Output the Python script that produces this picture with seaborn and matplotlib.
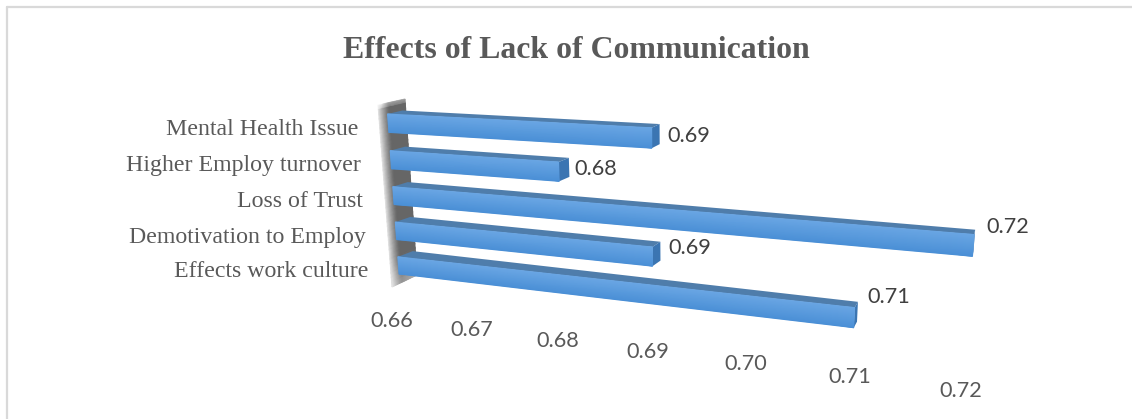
import numpy as np
import pandas as pd
import matplotlib
matplotlib.use("Agg")
import matplotlib.pyplot as plt
import seaborn as sns
from matplotlib.colors import LinearSegmentedColormap
from matplotlib.lines import Line2D
from matplotlib.patches import Polygon
from matplotlib.transforms import Affine2D, IdentityTransform, Transform

TITLE = "Effects of Lack of Communication"
categories = ["Mental Health Issue", "Higher Employ turnover", "Loss of Trust",
              "Demotivation to Employ", "Effects work culture"]
values = [0.69, 0.68, 0.72, 0.69, 0.71]
value_ticks = [0.66, 0.67, 0.68, 0.69, 0.70, 0.71, 0.72]

W, H = 1132, 419
V_MIN, V_MAX = 0.66, 0.72
BAR_WIDTH = 0.5
C_TOP, C_BOTTOM = -BAR_WIDTH / 2, len(categories) - 1 + BAR_WIDTH / 2

TEXT_GREY = "#595959"
LABEL_GREY = "#404040"
TOP_FACE = "#4f7dab"
SIDE_FACE = "#3b75b2"


class Projection(Transform):
    """Perspective mapping of (value, category) onto the canvas (y downward)."""
    input_dims = output_dims = 2
    is_affine = False
    has_inverse = False

    def __init__(self, corners):
        super().__init__()
        src = [(V_MIN, C_TOP), (V_MIN, C_BOTTOM), (V_MAX, C_TOP), (V_MAX, C_BOTTOM)]
        rows, rhs = [], []
        for (u, v), (x, y) in zip(src, corners):
            u, v = (u - V_MIN) / (V_MAX - V_MIN), (v - C_TOP) / (C_BOTTOM - C_TOP)
            rows.append([u, v, 1, 0, 0, 0, -u * x, -v * x])
            rows.append([0, 0, 0, u, v, 1, -u * y, -v * y])
            rhs += [x, y]
        self.m = np.append(np.linalg.solve(np.array(rows, float), np.array(rhs, float)), 1).reshape(3, 3)

    def transform_non_affine(self, xy):
        xy = np.asarray(xy, float).reshape(-1, 2)
        u = (xy[:, 0] - V_MIN) / (V_MAX - V_MIN)
        v = (xy[:, 1] - C_TOP) / (C_BOTTOM - C_TOP)
        p = self.m @ np.vstack([u, v, np.ones_like(u)])
        return np.column_stack([p[0] / p[2], H - p[1] / p[2]])


front = Projection([(387.5, 114), (399, 274), (981, 145), (966, 341)])
back = Projection([(402.5, 110.5), (414, 268), (982, 141), (967, 335)])
floor = Projection([(392, 320.5), (403.5, 480.5), (961, 391), (946, 581)])
canvas = Affine2D().scale(1, -1).translate(0, H)

sns.set_theme(style="white")
plt.rcParams["font.family"] = ["Liberation Serif", "DejaVu Serif"]

fig = plt.figure(figsize=(W / 100, H / 100), dpi=100, facecolor="white")


def layer():
    a = fig.add_axes([0, 0, 1, 1])
    a.set_axis_off()
    return a


ax_under, ax, ax_over = layer(), layer(), layer()

# Chart frame: only the top and left rules are visible
for xs, ys in [((7, 7), (6.5, H)), ((7, W), (6.5, 6.5))]:
    fig.add_artist(Line2D(xs, ys, color="#d9d9d9", lw=1.6, transform=canvas))

# Shaded back wall
u = np.linspace(0, 1, 24)
w = np.linspace(0, 1, 40)
U, W_ = np.meshgrid(u, w)
tl, tr, br, bl = map(np.array, [(378, 105), (405, 99), (417, 275), (392, 287)])
wall_x = (1 - W_) * ((1 - U) * tl[0] + U * tr[0]) + W_ * ((1 - U) * bl[0] + U * br[0])
wall_y = (1 - W_) * ((1 - U) * tl[1] + U * tr[1]) + W_ * ((1 - U) * bl[1] + U * br[1])
shade = 0.40 + 0.48 * np.clip(1 - U / 0.42, 0, 1) ** 1.3
shade = shade + 0.30 * np.clip((W_ - 0.86) / 0.14, 0, 1) * (U ** 0.5)
shade = shade + 0.30 * np.clip(1 - W_ / 0.02, 0, 1)
wall = ax_under.pcolormesh(wall_x, wall_y, np.clip(shade, 0, 1), shading="gouraud", cmap="gray",
                           vmin=0, vmax=1, transform=canvas)
wall.set_clip_on(False)

frame = pd.DataFrame({"category": categories, "value": values})
sns.barplot(data=frame, x="value", y="category", width=BAR_WIDTH, color="#5b9bdc",
            saturation=1, ax=ax)
ax.set_axis_off()

face_cmap = LinearSegmentedColormap.from_list("face", ["#6aa6e4", "#4a8fd6"])

for bar, value in zip(ax.patches, values):
    c0, c1 = bar.get_y(), bar.get_y() + bar.get_height()
    bar.set_x(V_MIN)
    bar.set_width(value - V_MIN)
    bar.set_transform(front)
    bar.set_clip_on(False)
    bar.set_linewidth(0)

    f = front.transform([(V_MIN, c0), (value, c0), (value, c1)])
    b = back.transform([(V_MIN, c0), (value, c0), (value, c1)])
    ax_under.add_patch(Polygon([f[0], f[1], b[1], b[0]], closed=True, facecolor=TOP_FACE, lw=0,
                               transform=IdentityTransform(), clip_on=False))
    ax_under.add_patch(Polygon([f[1], b[1], b[2], f[2]], closed=True, facecolor=SIDE_FACE, lw=0,
                               transform=IdentityTransform(), clip_on=False))

    X = np.array([[V_MIN, value], [V_MIN, value]])
    Y = np.array([[c0, c0], [c1, c1]])
    sheen = ax_over.pcolormesh(X, Y, np.array([[0.0, 0.0], [1.0, 1.0]]), shading="gouraud",
                               cmap=face_cmap, vmin=0, vmax=1, transform=front)
    sheen.set_clip_on(False)

# Value labels beside each bar end
label_shift = [(16, 8), (16, 7), (12, -8), (16, 1), (13, -11)]
for i, (value, (dx, dy)) in enumerate(zip(values, label_shift)):
    ax_over.text(value, i - BAR_WIDTH / 2, f"{value:.2f}",
                 transform=front + Affine2D().translate(dx, -dy),
                 family="Lato", fontsize=15.6, color=LABEL_GREY, ha="left", va="center")

# Category labels along the wall
for i, name in enumerate(categories):
    ax_over.text(V_MIN, i - BAR_WIDTH / 2, name,
                 transform=front + Affine2D().translate(-29.5, -15),
                 fontsize=17.2, color=TEXT_GREY, ha="right", va="center")

# Value axis labels follow the receding floor edge
for tick in value_ticks:
    ax_over.text(tick, C_TOP, f"{tick:.2f}", transform=floor,
                 family="Lato", fontsize=15.6, color=TEXT_GREY, ha="center", va="center")

fig.text(576 / W, 1 - 50 / H, TITLE, fontsize=22.9, fontweight="bold", color=TEXT_GREY,
         ha="center", va="center")

fig.savefig("out.png", dpi=100, facecolor="white")
